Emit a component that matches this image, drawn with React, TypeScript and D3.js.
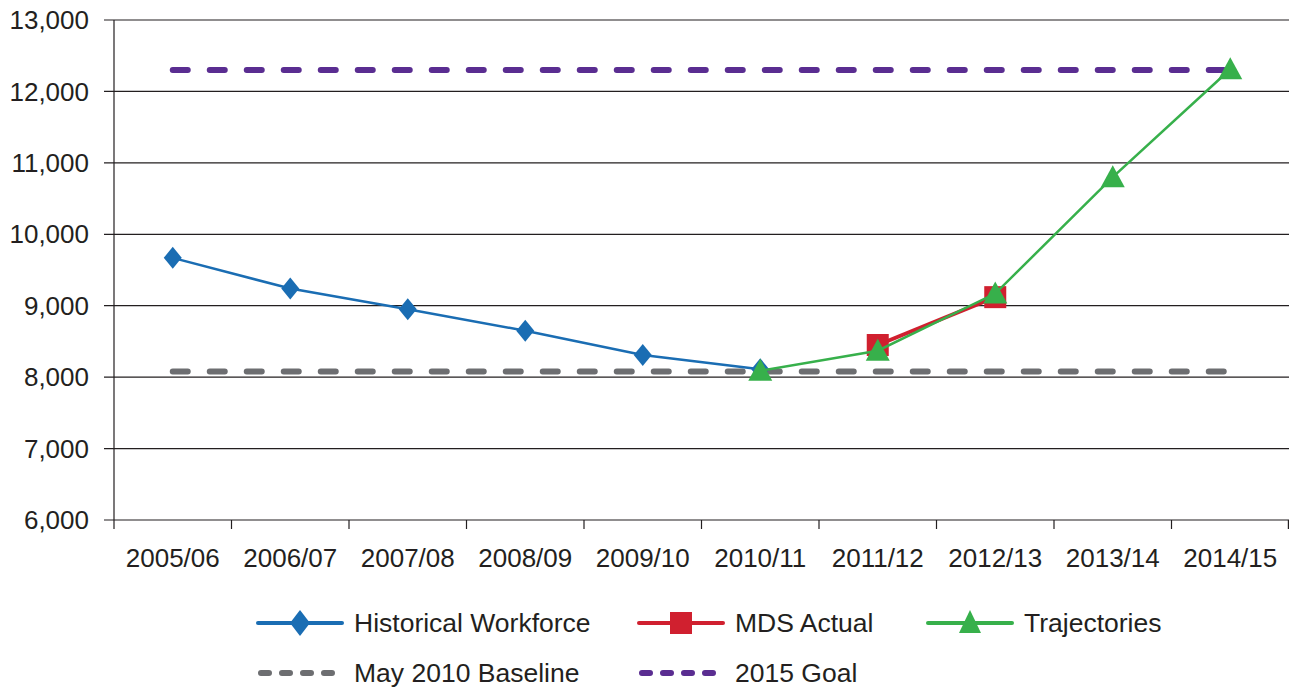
import * as d3 from 'd3';
import { useRef, useEffect } from 'react';

const years = ['2005/06', '2006/07', '2007/08', '2008/09', '2009/10', '2010/11', '2011/12', '2012/13', '2013/14', '2014/15'];
const historical = [9670, 9240, 8950, 8650, 8310, 8110, null, null, null, null];
const mdsActual = [null, null, null, null, null, null, 8450, 9120, null, null];
const trajectories = [null, null, null, null, null, 8090, 8370, 9170, 10800, 12310];
const baseline = 8080;
const goal = 12300;
const yTicks = [6000, 7000, 8000, 9000, 10000, 11000, 12000, 13000];

const BLUE = '#1a6db3';
const RED = '#d0202f';
const GREEN = '#37b04b';
const GREY = '#6d6e71';
const PURPLE = '#5a2d91';
const FONT = '"Liberation Sans", Arial, sans-serif';

export default function App() {
  const svgRef = useRef<SVGSVGElement>(null);

  useEffect(() => {
    if (!svgRef.current) return;
    const svg = d3.select(svgRef.current);
    svg.selectAll('*').remove();

    const margin = { top: 20, right: 0, bottom: 168, left: 114 };
    const W = 1289, H = 688;
    const width = W - margin.left - margin.right;
    const height = H - margin.top - margin.bottom;

    const g = svg.append('g').attr('transform', `translate(${margin.left},${margin.top})`);

    const x = d3.scaleBand().domain(years).range([0, width]);
    const cx = (yr: string) => (x(yr) ?? 0) + x.bandwidth() / 2;
    const y = d3.scaleLinear().domain([6000, 13000]).range([height, 0]);

    // gridlines
    g.append('g')
      .selectAll('line')
      .data(yTicks)
      .join('line')
      .attr('x1', -10).attr('x2', width)
      .attr('y1', (d) => y(d)).attr('y2', (d) => y(d))
      .attr('stroke', '#231f20').attr('stroke-width', 1.2);

    // y axis
    g.append('line')
      .attr('x1', 0).attr('x2', 0).attr('y1', 0).attr('y2', height + 9)
      .attr('stroke', '#231f20').attr('stroke-width', 1.2);
    g.append('g')
      .selectAll('text')
      .data(yTicks)
      .join('text')
      .attr('x', -25).attr('y', (d) => y(d))
      .attr('dy', '0.35em')
      .attr('text-anchor', 'end')
      .attr('font-family', FONT).attr('font-size', 26).attr('fill', '#231f20')
      .text((d) => d3.format(',')(d));

    // x axis ticks
    g.append('g')
      .selectAll('line')
      .data(years.slice(1))
      .join('line')
      .attr('x1', (d) => x(d) ?? 0).attr('x2', (d) => x(d) ?? 0)
      .attr('y1', height).attr('y2', height + 9)
      .attr('stroke', '#231f20').attr('stroke-width', 1.2);
    g.append('line')
      .attr('x1', width - 0.6).attr('x2', width - 0.6)
      .attr('y1', height).attr('y2', height + 9)
      .attr('stroke', '#231f20').attr('stroke-width', 1.2);
    g.append('g')
      .selectAll('text')
      .data(years)
      .join('text')
      .attr('x', (d) => cx(d)).attr('y', height + 47)
      .attr('text-anchor', 'middle')
      .attr('font-family', FONT).attr('font-size', 26).attr('fill', '#231f20')
      .text((d) => d);

    // reference dashed lines
    const refLine = (v: number, color: string) =>
      g.append('line')
        .attr('x1', cx(years[0])).attr('x2', cx(years[years.length - 1]))
        .attr('y1', y(v)).attr('y2', y(v))
        .attr('stroke', color).attr('stroke-width', 6)
        .attr('stroke-linecap', 'round')
        .attr('stroke-dasharray', '15,22');
    refLine(baseline, GREY);
    refLine(goal, PURPLE);

    const line = d3.line<number | null>()
      .defined((d) => d !== null)
      .x((_, i) => cx(years[i]))
      .y((d) => y(d as number));

    const drawSeries = (vals: (number | null)[], color: string, w: number) =>
      g.append('path')
        .datum(vals)
        .attr('fill', 'none')
        .attr('stroke', color)
        .attr('stroke-width', w)
        .attr('d', line);

    drawSeries(historical, BLUE, 2.5);
    historical.forEach((v, i) => {
      if (v === null) return;
      g.append('path')
        .attr('d', 'M0,-11 L9,0 L0,11 L-9,0 Z')
        .attr('transform', `translate(${cx(years[i])},${y(v)})`)
        .attr('fill', BLUE);
    });

    drawSeries(mdsActual, RED, 4);
    mdsActual.forEach((v, i) => {
      if (v === null) return;
      g.append('rect')
        .attr('x', cx(years[i]) - 11).attr('y', y(v) - 11)
        .attr('width', 22).attr('height', 22)
        .attr('fill', RED);
    });

    drawSeries(trajectories, GREEN, 2.5);
    trajectories.forEach((v, i) => {
      if (v === null) return;
      g.append('path')
        .attr('d', 'M0,-12 L12,10 L-12,10 Z')
        .attr('transform', `translate(${cx(years[i])},${y(v)})`)
        .attr('fill', GREEN);
    });

    // legend
    const leg = svg.append('g').attr('font-family', FONT).attr('font-size', 26.5).attr('fill', '#231f20');
    const legItem = (lx: number, ly: number, label: string, color: string, kind: string) => {
      const it = leg.append('g').attr('transform', `translate(${lx},${ly})`);
      if (kind === 'dash') {
        it.append('line')
          .attr('x1', 3).attr('x2', 82).attr('y1', 0).attr('y2', 0)
          .attr('stroke', color).attr('stroke-width', 6).attr('stroke-linecap', 'round')
          .attr('stroke-dasharray', '8,13');
      } else {
        it.append('line')
          .attr('x1', 0).attr('x2', 84).attr('y1', 0).attr('y2', 0)
          .attr('stroke', color).attr('stroke-width', 4).attr('stroke-linecap', 'round');
        if (kind === 'diamond') it.append('path').attr('d', 'M42,-13 L52,0 L42,13 L32,0 Z').attr('fill', color);
        if (kind === 'square') it.append('rect').attr('x', 31).attr('y', -11).attr('width', 22).attr('height', 22).attr('fill', color);
        if (kind === 'triangle') it.append('path').attr('d', 'M42,-13 L53,10 L31,10 Z').attr('fill', color);
      }
      it.append('text').attr('x', 96).attr('y', 0).attr('dy', '0.35em').text(label);
    };
    legItem(258, 623, 'Historical Workforce', BLUE, 'diamond');
    legItem(639, 623, 'MDS Actual', RED, 'square');
    legItem(928, 623, 'Trajectories', GREEN, 'triangle');
    legItem(258, 673, 'May 2010 Baseline', GREY, 'dash');
    legItem(639, 673, '2015 Goal', PURPLE, 'dash');
  }, []);

  return (
    <svg
      ref={svgRef}
      width={1289}
      height={688}
      style={{ position: 'absolute', left: 0, top: 0, background: '#fff' }}
    />
  );
}
